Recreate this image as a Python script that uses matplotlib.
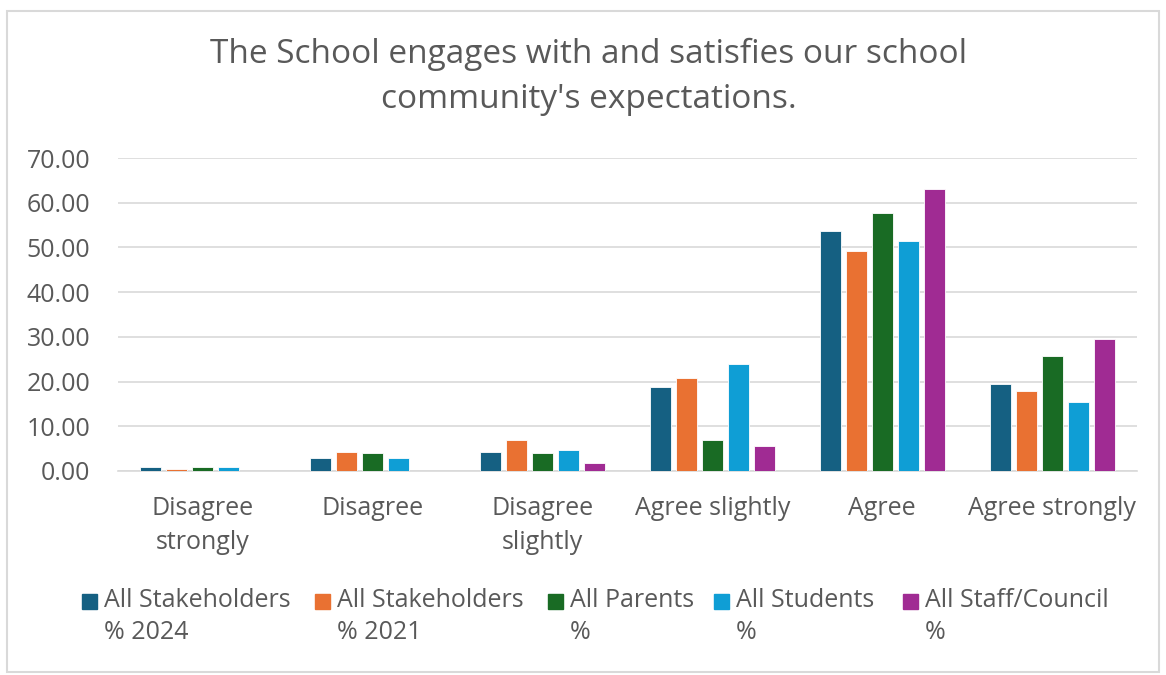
import numpy as np
import matplotlib.pyplot as plt
from matplotlib.patches import Rectangle

categories = ['Disagree\nstrongly', 'Disagree', 'Disagree\nslightly', 'Agree slightly', 'Agree', 'Agree strongly']
series_names = ['All Stakeholders\n% 2024', 'All Stakeholders\n% 2021', 'All Parents\n%', 'All Students\n%', 'All Staff/Council\n%']
stake_2024 = [0.8, 3.0, 4.2, 18.7, 53.6, 19.4]
stake_2021 = [0.5, 4.3, 6.9, 20.9, 49.1, 18.0]
parents = [1.0, 4.0, 4.0, 7.0, 57.7, 25.7]
students = [0.8, 3.0, 4.6, 24.0, 51.5, 15.4]
staff = [0.0, 0.0, 1.9, 5.5, 63.0, 29.5]
colors = ['#156082', '#E97132', '#196B24', '#0F9ED5', '#A02B93']

plt.rcParams['font.family'] = ['Open Sans', 'DejaVu Sans']
grey = '#595959'
W, H = 1166, 675

fig = plt.figure(figsize=(11.66, 6.75), dpi=100)
ax = fig.add_axes([118/W, 1-471/H, (1137-118)/W, (471-158)/H])
fig.patches.append(Rectangle((7/W, 0.005), 1152/W, 1-14/H, transform=fig.transFigure,
                             fill=False, edgecolor='#d9d9d9', linewidth=1.5))

x = np.arange(len(categories))
w = 0.124
step = 0.153
all_series = [stake_2024, stake_2021, parents, students, staff]
for i, vals in enumerate(all_series):
    ax.bar(x + (i - 2) * step, vals, w, color=colors[i], edgecolor='white', linewidth=0.6, zorder=3)

ax.set_xlim(-0.5, len(categories) - 0.5)
ax.set_ylim(0, 70)
ax.set_yticks(np.arange(0, 71, 10))
ax.set_yticklabels([f'{v:.2f}' for v in np.arange(0, 71, 10)])
ax.yaxis.grid(True, color='#d9d9d9', linewidth=1.2, zorder=0)
ax.set_xticks(x)
ax.set_xticklabels(categories, linespacing=1.45)
ax.tick_params(axis='both', length=0, labelsize=18, colors=grey)
ax.tick_params(axis='x', pad=18)
ax.tick_params(axis='y', pad=20)
for s in ['top', 'right', 'left']:
    ax.spines[s].set_visible(False)
ax.spines['bottom'].set_color('#d9d9d9')
ax.spines['bottom'].set_linewidth(1.2)

fig.text(0.505, 1-77/H, "The School engages with and satisfies our school\ncommunity's expectations.",
         ha='center', va='center', fontsize=24, color=grey, linespacing=1.45)

# legend drawn by hand to keep the two-line labels top aligned with the swatches
sw_x = [82, 315, 548, 714, 903]
for i, name in enumerate(series_names):
    fig.patches.append(Rectangle((sw_x[i]/W, 1-609/H), 15/W, 15/H, transform=fig.transFigure,
                                 color=colors[i]))
    fig.text((sw_x[i]+22)/W, 1-588/H, name, ha='left', va='top', fontsize=18,
             color=grey, linespacing=1.38)

fig.savefig('out.png', dpi=100)
